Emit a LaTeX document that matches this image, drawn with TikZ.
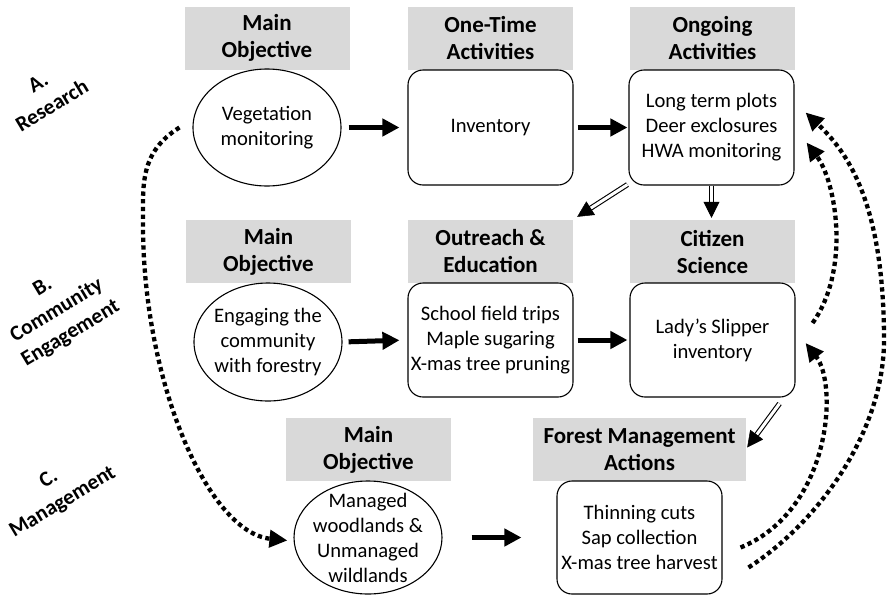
\documentclass[tikz,border=0pt]{standalone}
\usepackage{fontspec}
\setmainfont{Carlito}
\usetikzlibrary{arrows.meta,shapes.geometric,calc}
\definecolor{hdrgray}{HTML}{D9D9D9}
\begin{document}
\begin{tikzpicture}[x=1pt,y=-1pt,
  hdr/.style={fill=hdrgray, minimum width=165pt, minimum height=63pt, inner sep=0pt, align=center,
    font=\fontsize{23}{27}\selectfont\bfseries},
  objell/.style={ellipse, draw, line width=1.1pt, minimum width=148pt, minimum height=117pt, inner sep=0pt},
  objtxt/.style={align=center, inner sep=0pt, font=\fontsize{20.6}{25}\selectfont},
  act/.style={draw, line width=1.1pt, rounded corners=15pt, minimum width=165pt, minimum height=115pt,
    inner sep=1pt, align=center, font=\fontsize{20.6}{25}\selectfont},
  lab/.style={align=center, inner sep=0pt, font=\fontsize{21.5}{27}\selectfont\bfseries},
  thk/.style={line width=5pt, -{Triangle[length=17pt,width=17pt]}},
  dbl/.style={double=white, double distance=3pt, line width=1.1pt},
  dtip/.style={line width=0.5pt, -{Triangle[length=16pt,width=16pt]}},
  dots/.style={line width=4.3pt, dash pattern=on 4.3pt off 3.4pt, -{Triangle[length=18pt,width=17pt]}}
]
\useasboundingbox (0,0) rectangle (887,595);

% row labels
\node[lab, rotate=31] (labA) at (45,94) {A.\\Research};
\node[lab, rotate=31] (labB) at (57,311) {B.\\Community\\Engagement};
\node[lab, rotate=31] (labC) at (56,491) {C.\\Management};

% row A
\node[hdr] (hA1) at (267,38) {Main\\Objective};
\node[hdr] (hA2) at (490.5,38) {One-Time\\Activities};
\node[hdr] (hA3) at (712.5,38) {Ongoing\\Activities};
\node[objell] (veg) at (267,127.5) {};
\node[objtxt] (vegt) at (veg.center) {Vegetation\\monitoring};
\node[act] (inv) at (490.5,127.5) {Inventory};
\node[act] (ong) at (711.5,127.5) {Long term plots\\Deer exclosures\\HWA monitoring};

% row B
\node[hdr] (hB1) at (268.5,251.5) {Main\\Objective};
\node[hdr] (hB2) at (490.5,251.5) {Outreach \&\\Education};
\node[hdr] (hB3) at (712.5,251.5) {Citizen\\Science};
\node[objell, minimum height=118pt] (eng) at (268,342) {};
\node[objtxt] (engt) at (eng.center) {Engaging the\\community\\with forestry};
\node[act, minimum height=114pt] (out) at (490.5,340) {School field trips\\Maple sugaring\\X-mas tree pruning};
\node[act, minimum height=114pt] (cit) at (712.5,340) {Lady’s Slipper\\inventory};

% row C
\node[hdr] (hC1) at (368.5,449.5) {Main\\Objective};
\node[hdr, minimum width=213pt] (hC2) at (639.5,449.5) {Forest Management\\Actions};
\node[objell, minimum height=113pt] (mgd) at (368,537.5) {};
\node[objtxt] (mgdt) at (mgd.center) {Managed\\woodlands \&\\Unmanaged\\wildlands};
\node[act, minimum height=113pt] (fm) at (639.5,537.5) {Thinning cuts\\Sap collection\\X-mas tree harvest};

% solid arrows
\draw[thk, shorten <=7pt, shorten >=8pt] (veg.east) -- (inv.west);
\draw[thk, shorten <=4pt, shorten >=1pt] (inv.east) -- (ong.west);
\draw[thk, shorten <=6pt, shorten >=8pt] (eng.east) -- (out.west);
\draw[thk, shorten <=4pt, shorten >=2pt] (out.east) -- (cit.west);
\draw[thk, shorten <=29pt, shorten >=35pt] (mgd.east) -- (fm.west);

% double arrows
\coordinate (d1s) at ([shift={(-1,-1)}]ong.south west);
\coordinate (d1e) at ([shift={(4,-3)}]hB2.north east);
\coordinate (d1m) at ($(d1e)!15pt!(d1s)$);
\draw[dbl] (d1s) -- (d1m);
\draw[dtip] (d1m) -- (d1e);

\coordinate (d2s) at (ong.south);
\coordinate (d2e) at ($(ong.south |- hB3.north)+(0,-2)$);
\coordinate (d2m) at ($(d2e)!15pt!(d2s)$);
\draw[dbl] (d2s) -- (d2m);
\draw[dtip] (d2m) -- (d2e);

\coordinate (d3s) at ([shift={(-16,6)}]cit.south east);
\coordinate (d3e) at ([shift={(1,-2)}]hC2.east);
\coordinate (d3m) at ($(d3e)!15pt!(d3s)$);
\draw[dbl] (d3s) -- (d3m);
\draw[dtip] (d3m) -- (d3e);

% dotted feedback arrows
\coordinate (lw) at (143,225);
\draw[dots] ([shift={(-13,0)}]veg.west) .. controls +(-40,25) and +(0,-40) .. (lw)
  .. controls +(0,155) and +(-80,-8) .. ([shift={(-6,3)}]mgd.west);

\coordinate (rw) at (884,340);
\draw[dots] ([shift={(26,30)}]fm.east) .. controls +(72,-47) and +(0,90) .. (rw)
  .. controls +(0,-140) and +(40,38) .. ([shift={(11,-15)}]ong.east);

\draw[dots] ([shift={(17,-17)}]cit.east) .. controls +(38,-53) and +(30,40) .. ([shift={(12,15)}]ong.east);

\draw[dots] ([shift={(18,10)}]fm.east) .. controls +(90,-37) and +(33,42) .. ([shift={(10,3)}]cit.east);
\end{tikzpicture}
\end{document}
